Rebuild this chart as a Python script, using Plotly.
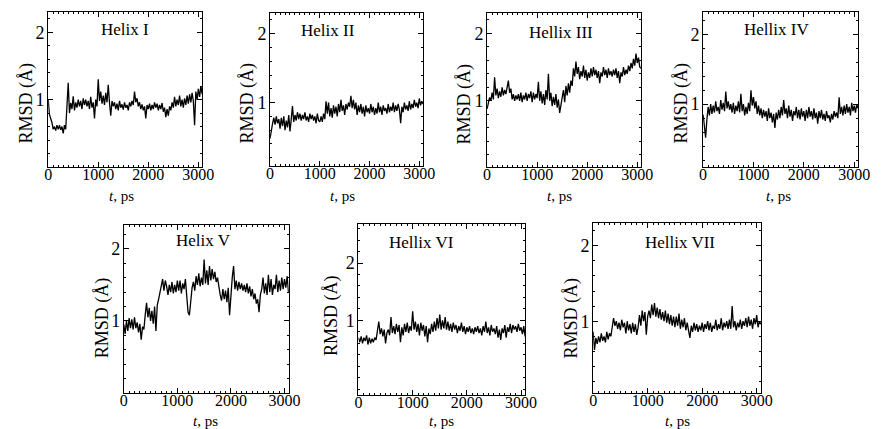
import numpy as np
import plotly.graph_objects as go

# ---- data (RMSD, Å), t from 0 to ~3075 ps ----
helix1 = [1.0, 0.78, 0.72, 0.66, 0.56, 0.6, 0.54, 0.62, 0.56, 0.62, 0.55, 0.6, 0.5, 0.62, 0.56, 0.88,
          1.25, 0.8, 0.95, 0.86, 1.05, 0.84, 0.96, 0.88, 1.0, 0.9, 0.98, 0.86, 1.02, 0.92, 1.0, 0.9,
          0.98, 0.86, 1.04, 0.88, 0.96, 0.72, 1.0, 0.9, 1.3, 0.98, 1.12, 0.94, 1.06, 0.92, 1.1, 0.96,
          1.22, 0.95, 0.76, 0.98, 0.9, 0.96, 0.86, 0.94, 0.84, 0.98, 0.88, 0.93, 0.85, 0.96, 0.88, 0.92,
          0.84, 0.96, 0.9, 0.98, 0.92, 1.12, 0.96, 1.02, 0.9, 0.96, 0.86, 0.93, 0.84, 0.9, 0.72, 0.92,
          0.86, 0.94, 0.84, 0.92, 0.86, 0.96, 0.88, 0.94, 0.84, 0.92, 0.86, 0.95, 0.82, 0.88, 0.74, 0.86,
          0.76, 0.9, 0.84, 0.96, 0.88, 1.04, 0.9, 1.0, 0.92, 1.06, 0.9, 1.0, 0.88, 1.02, 0.92, 1.06,
          0.94, 1.08, 0.96, 1.1, 0.98, 0.62, 1.12, 1.0, 1.16, 1.04, 1.2, 1.08]
helix2 = [0.48, 0.62, 0.7, 0.78, 0.68, 0.8, 0.7, 0.76, 0.62, 0.78, 0.66, 0.8, 0.6, 0.74, 0.64, 0.82,
          0.58, 0.76, 0.95, 0.72, 0.82, 0.74, 0.86, 0.76, 0.84, 0.74, 0.82, 0.76, 0.86, 0.74, 0.8, 0.72,
          0.84, 0.76, 0.82, 0.74, 0.8, 0.7, 0.84, 0.74, 0.72, 0.8, 0.72, 0.84, 0.76, 1.02, 0.84, 1.0,
          0.8, 0.92, 0.78, 0.96, 0.84, 0.94, 0.8, 0.98, 0.86, 1.04, 0.88, 0.96, 0.82, 0.98, 0.9, 1.0,
          0.94, 1.1, 0.92, 1.04, 0.9, 1.0, 0.82, 0.96, 0.86, 0.98, 0.84, 0.94, 0.8, 0.96, 0.86, 0.92,
          0.84, 0.98, 0.86, 0.94, 0.82, 0.92, 0.84, 1.0, 0.86, 0.94, 0.82, 0.96, 0.88, 0.92, 0.84, 0.98,
          0.86, 0.94, 0.88, 1.0, 0.86, 0.96, 0.88, 0.98, 0.9, 0.7, 0.94, 0.86, 1.0, 0.9, 0.96, 0.88,
          1.02, 0.9, 0.98, 0.92, 1.04, 0.94, 1.0, 0.92, 1.06, 0.96, 1.02, 0.98]
helix3 = [0.88, 0.96, 1.05, 1.0, 1.12, 1.02, 1.35, 1.08, 1.18, 1.04, 1.14, 1.06, 1.2, 1.08, 1.16, 1.1,
          1.24, 1.3, 1.12, 1.18, 1.02, 1.1, 1.0, 1.08, 1.02, 1.1, 1.0, 1.12, 0.98, 1.08, 1.02, 1.12,
          1.0, 1.1, 1.04, 1.14, 0.98, 1.12, 1.02, 1.1, 1.04, 1.28, 1.0, 1.14, 0.96, 1.1, 0.94, 1.16,
          1.02, 1.4, 1.0, 1.12, 0.92, 1.06, 0.94, 1.1, 0.9, 1.02, 0.82, 0.96, 1.04, 1.16, 0.98, 1.22,
          1.08, 1.26, 1.12, 1.3, 1.22, 1.48, 1.36, 1.58, 1.4, 1.5, 1.32, 1.44, 1.36, 1.52, 1.34, 1.46,
          1.3, 1.42, 1.34, 1.48, 1.36, 1.5, 1.38, 1.46, 1.34, 1.44, 1.26, 1.42, 1.36, 1.5, 1.38, 1.46,
          1.34, 1.48, 1.38, 1.44, 1.36, 1.46, 1.38, 1.48, 1.34, 1.44, 1.26, 1.42, 1.36, 1.5, 1.38, 1.46,
          1.4, 1.52, 1.44, 1.56, 1.48, 1.62, 1.52, 1.7, 1.56, 1.64, 1.5, 1.48]
helix4 = [0.85, 0.62, 0.52, 0.78, 0.96, 0.84, 1.0, 0.86, 0.98, 0.88, 1.04, 0.9, 0.96, 0.86, 1.06, 0.92,
          1.02, 0.9, 1.18, 0.94, 1.04, 0.92, 1.0, 0.88, 1.02, 0.86, 0.98, 0.9, 1.04, 0.88, 1.15, 0.9,
          1.0, 0.84, 0.96, 0.86, 1.02, 0.9, 1.2, 0.98, 1.1, 0.94, 1.04, 0.86, 0.98, 0.84, 0.94, 0.8,
          0.92, 0.82, 0.9, 0.76, 0.94, 0.8, 0.88, 0.74, 0.86, 0.66, 0.88, 0.78, 0.92, 0.8, 0.96, 0.84,
          1.06, 0.86, 0.94, 0.8, 0.98, 0.82, 0.92, 0.76, 0.9, 0.84, 0.96, 0.8, 0.92, 0.78, 0.94, 0.82,
          0.9, 0.76, 0.92, 0.8, 0.96, 0.82, 0.9, 0.78, 0.94, 0.8, 0.88, 0.72, 0.9, 0.8, 0.92, 0.78,
          0.86, 0.76, 0.9, 0.8, 0.84, 0.74, 0.86, 0.78, 0.9, 0.82, 0.88, 0.8, 1.1, 0.86, 0.96, 0.84,
          0.98, 0.86, 1.0, 0.88, 0.96, 0.84, 1.02, 0.9, 0.98, 0.88, 1.0, 0.94]
helix5 = [0.95, 0.82, 1.0, 0.86, 1.04, 0.9, 1.02, 0.88, 1.05, 0.9, 0.98, 0.84, 0.96, 0.74, 0.92, 0.88,
          1.08, 1.25, 1.05, 1.18, 1.0, 1.14, 0.96, 1.2, 0.86, 1.22, 1.3, 1.38, 1.48, 1.58, 1.42, 1.56,
          1.48, 1.36, 1.5, 1.4, 1.54, 1.38, 1.5, 1.4, 1.56, 1.42, 1.56, 1.38, 1.52, 1.44, 1.58, 1.36,
          1.12, 1.08, 1.34, 1.46, 1.54, 1.42, 1.62, 1.5, 1.66, 1.48, 1.6, 1.5, 1.85, 1.52, 1.7, 1.5,
          1.76, 1.56, 1.72, 1.58, 1.68, 1.54, 1.6, 1.46, 1.36, 1.28, 1.44, 1.3, 1.42, 1.26, 1.46, 1.08,
          1.4, 1.6, 1.76, 1.44, 1.56, 1.42, 1.54, 1.44, 1.52, 1.42, 1.5, 1.4, 1.52, 1.38, 1.48, 1.34,
          1.44, 1.3, 1.38, 1.24, 1.3, 1.12, 1.36, 1.44, 1.6, 1.38, 1.52, 1.36, 1.64, 1.4, 1.58, 1.36,
          1.5, 1.44, 1.64, 1.4, 1.56, 1.42, 1.6, 1.44, 1.58, 1.46, 1.62, 1.4]
helix6 = [0.7, 0.62, 0.72, 0.6, 0.7, 0.64, 0.74, 0.58, 0.7, 0.6, 0.68, 0.62, 0.7, 0.66, 0.82, 0.98,
          0.76, 0.86, 0.72, 0.84, 0.6, 0.78, 0.84, 0.74, 1.06, 0.78, 0.9, 0.76, 0.94, 0.8, 0.92, 0.62,
          0.88, 0.74, 0.94, 0.8, 0.96, 0.78, 0.9, 0.82, 1.16, 0.84, 0.98, 0.8, 0.94, 0.74, 0.96, 0.82,
          0.92, 0.72, 0.9, 0.62, 0.86, 0.76, 0.94, 0.8, 0.98, 0.82, 1.04, 0.86, 1.1, 0.84, 1.0, 0.86,
          1.06, 0.84, 0.98, 0.82, 0.94, 0.8, 0.96, 0.84, 0.92, 0.78, 0.9, 0.82, 0.96, 0.8, 0.9, 0.76,
          0.88, 0.8, 0.9, 0.78, 0.86, 0.76, 0.88, 0.8, 0.9, 0.78, 0.86, 0.74, 0.9, 0.8, 0.98, 0.78,
          0.88, 0.74, 0.92, 0.8, 0.86, 0.76, 0.9, 0.7, 0.84, 0.66, 0.86, 0.78, 0.92, 0.7, 0.88, 0.8,
          0.94, 0.78, 0.92, 0.84, 0.9, 0.8, 0.94, 0.82, 0.88, 0.76, 0.9, 0.72]
helix7 = [0.86, 0.62, 0.78, 0.7, 0.8, 0.72, 0.84, 0.74, 0.8, 0.72, 0.86, 0.76, 0.84, 0.8, 0.92, 1.04,
          0.94, 1.0, 0.9, 0.98, 0.88, 1.02, 0.92, 0.98, 0.84, 1.0, 0.88, 0.96, 0.84, 0.98, 0.86, 0.96,
          0.82, 0.92, 1.08, 0.94, 1.14, 1.0, 1.12, 0.82, 1.06, 1.14, 1.04, 1.22, 1.08, 1.24, 1.06, 1.18,
          1.04, 1.16, 1.02, 1.12, 1.0, 1.14, 0.98, 1.1, 0.96, 1.08, 0.94, 1.06, 0.92, 1.06, 0.94, 1.1,
          0.9, 1.02, 0.92, 1.04, 0.88, 0.98, 0.88, 0.78, 0.94, 0.86, 0.98, 0.88, 0.96, 0.86, 0.94, 0.88,
          0.98, 0.86, 0.96, 0.9, 1.0, 0.88, 0.98, 0.86, 0.94, 0.9, 1.02, 0.88, 0.96, 0.9, 1.04, 0.88,
          0.98, 0.92, 1.0, 0.9, 1.02, 0.9, 1.2, 0.92, 1.0, 0.88, 0.98, 0.92, 1.02, 0.9, 1.0, 0.94,
          1.04, 0.92, 1.06, 0.94, 1.02, 0.9, 1.04, 0.96, 1.08, 0.92, 1.0, 0.96]

titles = ["Helix I", "Helix II", "Hellix III", "Hellix IV", "Helix V", "Hellix VI", "Hellix VII"]
series = [helix1, helix2, helix3, helix4, helix5, helix6, helix7]
x_ticks = [0, 1000, 2000, 3000]
y_ticks = [1, 2]
t_end = 3075

# ---- layout (pixels) ----
W, H = 884, 429
boxes = [(45, 202, 12, 167), (271, 427, 13, 166), (492, 649, 13, 167), (712, 870, 12, 167),
         (122, 290, 225, 393), (361, 531, 224, 395), (600, 771, 223, 393)]
yranges = [[0, 2.3], [0.08, 2.3], [0.02, 2.3], [0.1, 2.32],
           [0, 2.33], [-0.3, 2.68], [0.05, 2.3]]
title_pos = [(123, 30), (330, 31), (567, 32), (787, 30), (203, 240), (425, 242), (688, 242)]
ytitle_pos = [(23, 103), (248, 103), (468, 104), (690, 103), (100, 318), (333, 315), (577, 318)]
xtitle_pos = [(120, 196), (345, 196), (566, 196), (789, 196), (205, 421), (446, 421), (686, 421)]

FONT = "Liberation Serif, Times New Roman, serif"
fig = go.Figure()
annotations = []
for k, vals in enumerate(series):
    sfx = "" if k == 0 else str(k + 1)
    t = np.linspace(0, t_end, len(vals))
    fig.add_trace(go.Scatter(x=t, y=vals, mode="lines", line=dict(color="black", width=1.3),
                             xaxis="x" + sfx, yaxis="y" + sfx, showlegend=False, hoverinfo="skip"))
    x0, x1, y0, y1 = boxes[k]
    common = dict(showline=True, linecolor="black", linewidth=1, mirror="allticks",
                  ticks="inside", tickcolor="black", showgrid=False, zeroline=False)
    fig.update_layout(**{
        "xaxis" + sfx: dict(domain=[x0 / W, x1 / W], anchor="y" + sfx, range=[0, 3080],
                            tickmode="array", tickvals=x_ticks, ticklen=5, ticklabelstandoff=-7,
                            tickfont=dict(family=FONT, size=16, color="black"),
                            minor=dict(tickmode="array", tickvals=list(range(0, 3100, 100)),
                                       ticks="inside", ticklen=2, tickcolor="black"),
                            **common),
        "yaxis" + sfx: dict(domain=[1 - y1 / H, 1 - y0 / H], anchor="x" + sfx, range=yranges[k],
                            tickmode="array", tickvals=y_ticks, ticklen=5, ticklabelstandoff=-1,
                            tickfont=dict(family=FONT, size=18, color="black"),
                            minor=dict(tickmode="array",
                                       tickvals=[round(v, 2) for v in np.arange(-0.2, 2.8, 0.2)],
                                       ticks="inside", ticklen=2, tickcolor="black"),
                            **common),
    })
    tx, ty = title_pos[k]
    annotations.append(dict(x=tx / W, y=1 - ty / H, xref="paper", yref="paper", text=titles[k],
                            showarrow=False, xanchor="center", yanchor="middle",
                            font=dict(family=FONT, size=17, color="black")))
    ax_, ay_ = ytitle_pos[k]
    annotations.append(dict(x=ax_ / W, y=1 - ay_ / H, xref="paper", yref="paper", text="RMSD (Å)",
                            textangle=-90, showarrow=False, xanchor="center", yanchor="middle",
                            font=dict(family=FONT, size=18, color="black")))
    bx, by = xtitle_pos[k]
    annotations.append(dict(x=bx / W, y=1 - by / H, xref="paper", yref="paper", text="<i>t</i>, ps",
                            showarrow=False, xanchor="center", yanchor="middle",
                            font=dict(family=FONT, size=15, color="black")))

fig.update_layout(width=W, height=H, margin=dict(l=0, r=0, t=0, b=0),
                  paper_bgcolor="white", plot_bgcolor="white", annotations=annotations,
                  showlegend=False)
fig.write_html("out.html")
